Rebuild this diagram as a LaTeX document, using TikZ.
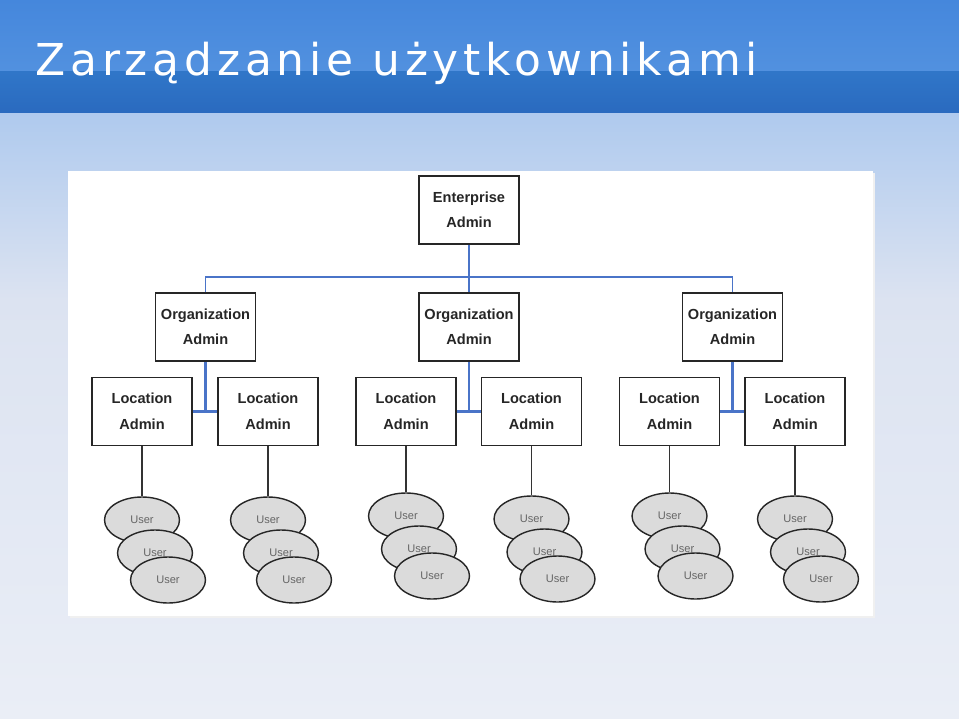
\documentclass[tikz,border=0pt]{standalone}
\usepackage{fontspec}
\setmainfont{Liberation Sans}
\newfontfamily\titlefont[LetterSpace=11]{DejaVu Sans}
\usetikzlibrary{shapes.geometric}

\definecolor{barhigh}{HTML}{4587DC}
\definecolor{barmid}{HTML}{5291DF}
\definecolor{barlow}{HTML}{3076C8}
\definecolor{bardeep}{HTML}{2A6ABF}
\definecolor{skytop}{HTML}{AFCAEE}
\definecolor{skymid}{HTML}{DCE3F1}
\definecolor{skylow}{HTML}{EAEEF6}
\definecolor{linkblue}{HTML}{4A74C8}

\tikzset{
  admin/.style={draw=black!85, line width=0.9pt, fill=white, minimum width=2cm, minimum height=1.36cm,
    inner sep=0pt, align=center, text=black!85, font=\bfseries\fontsize{8.3}{14.5}\selectfont},
  user/.style={ellipse, draw=black!85, line width=0.8pt, fill=black!14, minimum width=1.5cm,
    minimum height=0.92cm, inner sep=0pt, text=black!60, font=\fontsize{6.3}{7}\selectfont},
  orgline/.style={draw=linkblue, line width=0.6pt},
  locline/.style={draw=linkblue, line width=1.6pt},
  userline/.style={draw=black!80, line width=0.6pt}
}

\begin{document}
\begin{tikzpicture}[x=0.02cm, y=-0.02cm]
\useasboundingbox (0,0) rectangle (959,719);
% slide background
\shade[top color=skytop, bottom color=skymid] (0,113) rectangle (959,300);
\shade[top color=skymid, bottom color=skylow] (0,300) rectangle (959,719);
\shade[top color=barhigh, bottom color=barmid] (0,0) rectangle (959,72);
\shade[top color=barlow, bottom color=bardeep] (0,72) rectangle (959,113);
\node[anchor=base west, inner sep=0pt, text=white, font=\titlefont\fontsize{25}{30}\selectfont] (title) at (35,76) {Zarządzanie użytkownikami};
% picture panel
\fill[black!6] (70,173) rectangle (875,618);
\fill[white] (68,171) rectangle (873,616);

% admins
\node[admin] (ent) at (469,210) {Enterprise\\Admin};
\node[admin] (org1) at (205.5,327) {Organization\\Admin};
\node[admin] (org2) at (469,327) {Organization\\Admin};
\node[admin] (org3) at (732.5,327) {Organization\\Admin};
\node[admin] (loc1) at (142,411.5) {Location\\Admin};
\node[admin] (loc2) at (268,411.5) {Location\\Admin};
\node[admin] (loc3) at (406,411.5) {Location\\Admin};
\node[admin] (loc4) at (531.5,411.5) {Location\\Admin};
\node[admin] (loc5) at (669.5,411.5) {Location\\Admin};
\node[admin] (loc6) at (795,411.5) {Location\\Admin};

% blue links
\coordinate (bus) at (469,277);
\draw[orgline, line width=1pt] (ent.south) -- (bus);
\draw[orgline] (org1.north) -- (org1.north |- bus) -- (org3.north |- bus) -- (org3.north);
\draw[orgline] (bus) -- (org2.north);
\draw[locline] (org1.south) -- (org1.south |- loc1.east);
\draw[locline] (loc1.east) -- (loc2.west);
\draw[locline] (org2.south) -- (org2.south |- loc3.east);
\draw[locline] (loc3.east) -- (loc4.west);
\draw[locline] (org3.south) -- (org3.south |- loc5.east);
\draw[locline] (loc5.east) -- (loc6.west);

% users
\foreach \n/\x/\y in {1/142/520, 2/268/520, 3/406/516, 4/531.5/519, 5/669.5/516, 6/795/519}{
  \node[user] (u\n a) at (\x,\y) {User};
  \node[user] (u\n b) at (\x+13,\y+33) {User};
  \node[user] (u\n c) at (\x+26,\y+60) {User};
  \draw[userline] (loc\n.south) -- (u\n a.north);
}
\end{tikzpicture}
\end{document}
